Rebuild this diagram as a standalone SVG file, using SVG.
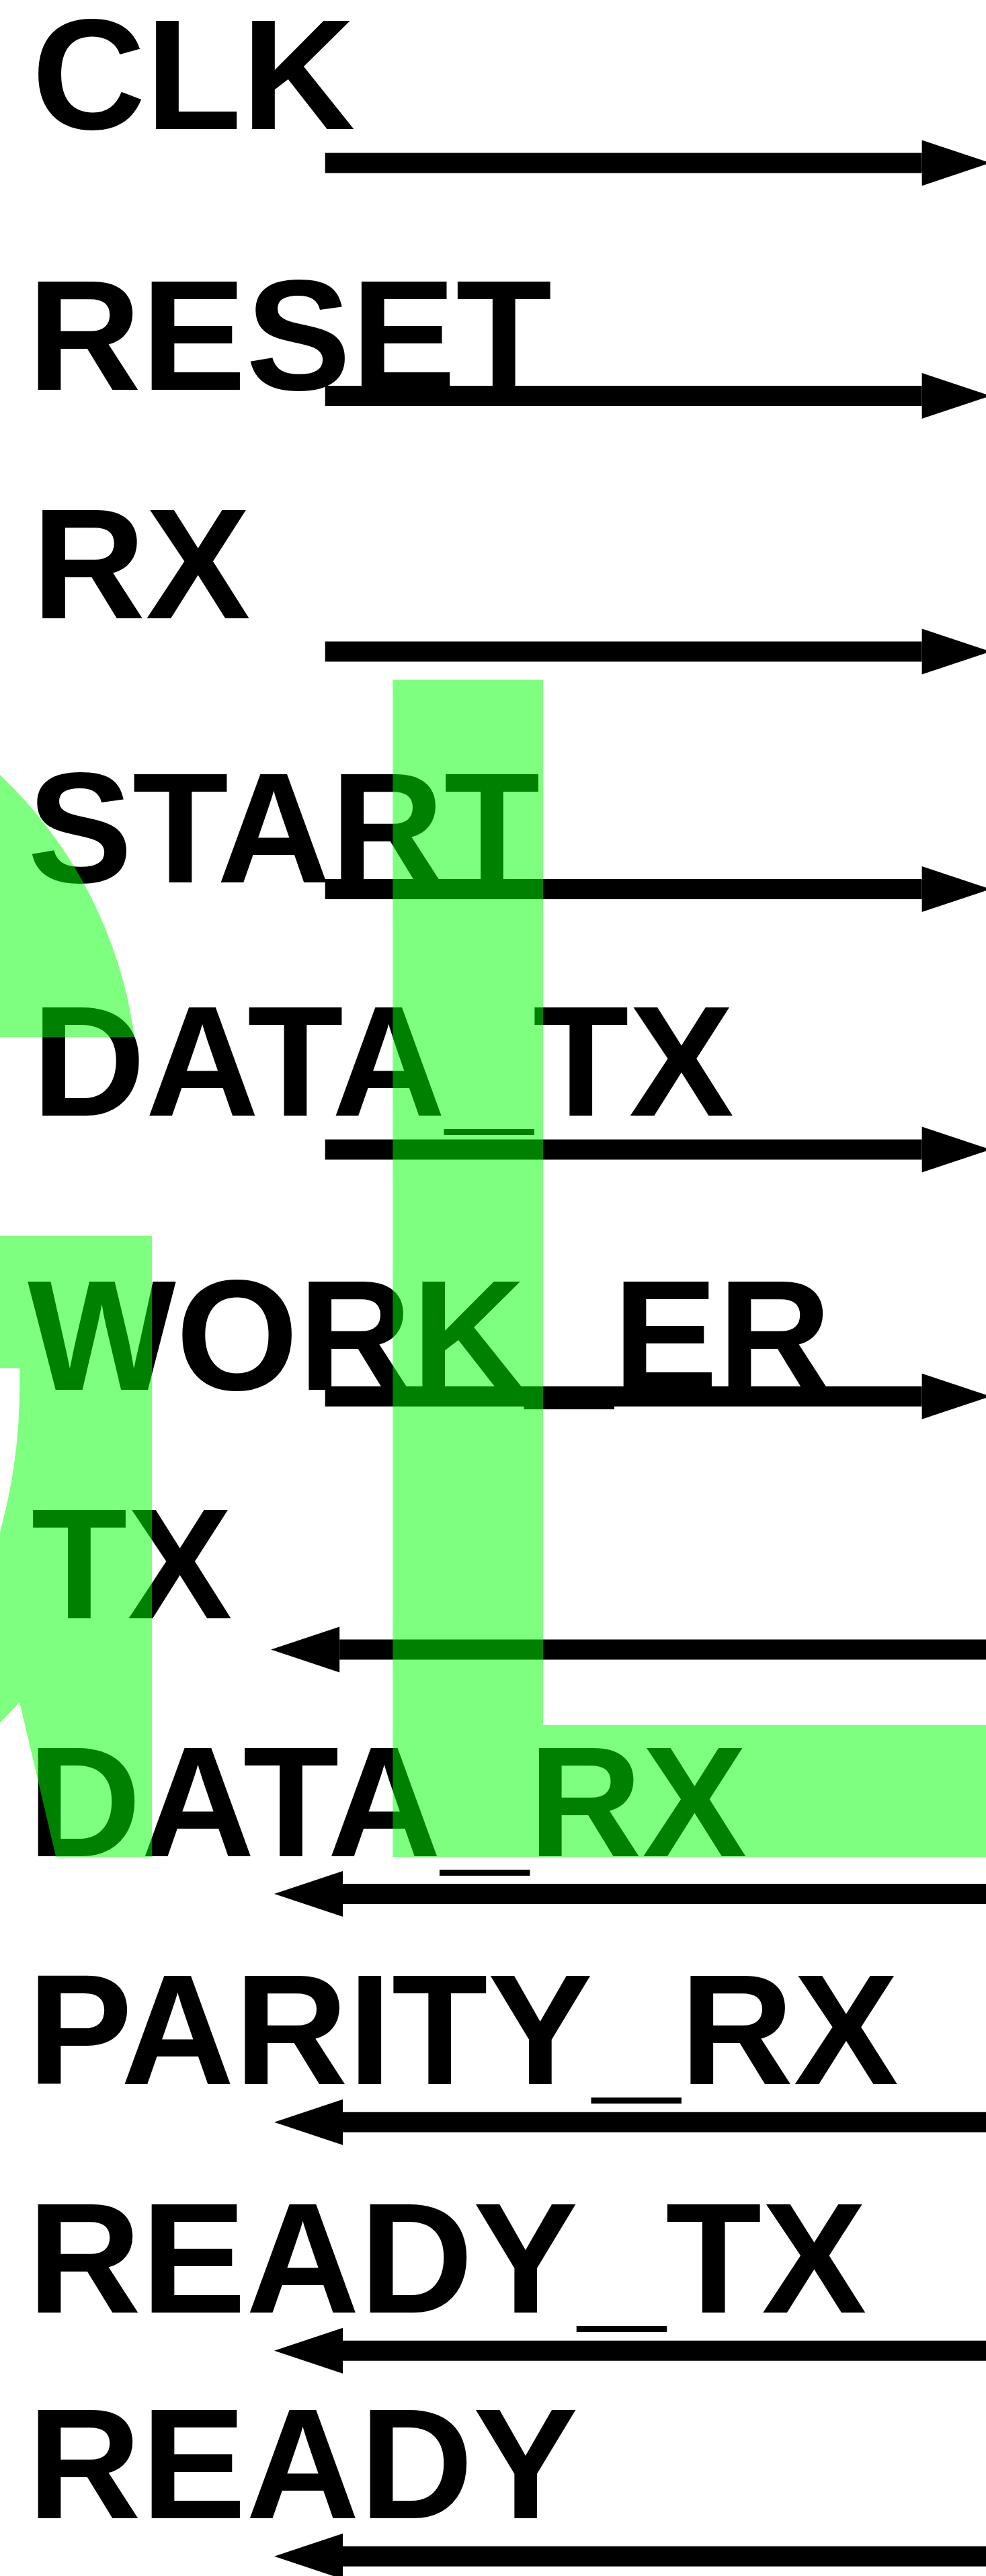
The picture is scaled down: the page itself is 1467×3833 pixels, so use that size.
<svg xmlns="http://www.w3.org/2000/svg" width="1467" height="3833" viewBox="0 0 1467 3833">
<style>
.lbl{font-family:"Liberation Sans",Arial,sans-serif;font-weight:bold;font-size:234px;fill:#000}
.wire{stroke:#000;stroke-width:30;fill:none}
.hl{fill:#00ff00;fill-opacity:0.5}
</style>
<defs>
<marker id="head" markerUnits="userSpaceOnUse" markerWidth="102" markerHeight="68" refX="0" refY="34" orient="auto" overflow="visible">
<path d="M0,0 L102,34 L0,68 Z" fill="#000"/>
</marker>
</defs>
<rect width="1467" height="3833" fill="#fff"/>
<g id="ports">
<g id="clk"><text class="lbl" x="47.5" y="192.4">CLK</text></g>
<g id="reset"><text class="lbl" x="41" y="579.9">RESET</text></g>
<g id="rx"><text class="lbl" x="47.5" y="919.6">RX</text></g>
<g id="start"><text class="lbl" x="41" y="1313.4">START</text></g>
<g id="data_tx"><text class="lbl" x="47.5" y="1660.3">DATA_TX</text></g>
<g id="work_er"><text class="lbl" x="41" y="2068.3">WORK_ER</text></g>
<g id="tx"><text class="lbl" x="46.5" y="2408">TX</text></g>
<g id="data_rx"><text class="lbl" x="41" y="2761.6">DATA_RX</text></g>
<g id="parity_rx"><text class="lbl" x="41" y="3101.3">PARITY_RX</text></g>
<g id="ready_tx"><text class="lbl" x="41" y="3441">READY_TX</text></g>
<g id="ready"><text class="lbl" x="41" y="3746.7">READY</text></g>
</g>
<g id="connectors">
<line class="wire" x1="483.7" y1="242.4" x2="1371.6" y2="242.4" marker-end="url(#head)"/>
<line class="wire" x1="483.7" y1="589" x2="1371.6" y2="589" marker-end="url(#head)"/>
<line class="wire" x1="483.7" y1="969.5" x2="1371.6" y2="969.5" marker-end="url(#head)"/>
<line class="wire" x1="483.7" y1="1323" x2="1371.6" y2="1323" marker-end="url(#head)"/>
<line class="wire" x1="483.7" y1="1710.5" x2="1371.6" y2="1710.5" marker-end="url(#head)"/>
<line class="wire" x1="483.7" y1="2077.7" x2="1371.6" y2="2077.7" marker-end="url(#head)"/>
<line class="wire" x1="1480" y1="2454.6" x2="505.2" y2="2454.6" marker-end="url(#head)"/>
<line class="wire" x1="1480" y1="2818" x2="510" y2="2818" marker-end="url(#head)"/>
<line class="wire" x1="1480" y1="3157.8" x2="510" y2="3157.8" marker-end="url(#head)"/>
<line class="wire" x1="1480" y1="3497.8" x2="510" y2="3497.8" marker-end="url(#head)"/>
<line class="wire" x1="1480" y1="3803.7" x2="510" y2="3803.7" marker-end="url(#head)"/>
</g>
<g id="highlights">
<path class="hl" d="M0,1153 A658,658 0 0 1 200,1543 L0,1543 Z"/>
<path class="hl" d="M0,1839 H226 V2763.3 H83.3 L29.3,2533.3 L0,2563.3 L-10,2563.3 L-10,2280 L0,2280 A831,831 0 0 0 29.3,2060 V2036 H0 Z"/>
<path class="hl" d="M584.3,1012 H808 V2566.7 H1467 V2763.3 H584.3 Z"/>
</g>
</svg>
